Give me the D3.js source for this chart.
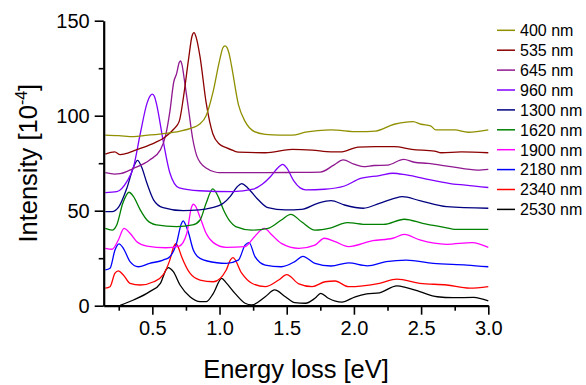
<!DOCTYPE html>
<html>
<head>
<meta charset="utf-8">
<script src="https://cdn.jsdelivr.net/npm/d3@7"></script>
<style>
  html, body { margin: 0; padding: 0; background: #fff; }
  svg { display: block; font-family: Arial, "Liberation Sans", sans-serif; }
</style>
</head>
<body>
<svg id="chart" width="586" height="385"></svg>
<script>
// Wavelength labels, top of the legend first
const labels = ["400 nm", "535 nm", "645 nm", "960 nm", "1300 nm",
                "1620 nm", "1900 nm", "2180 nm", "2340 nm", "2530 nm"];
const colors = ["#8f8f00", "#8b0000", "#901890", "#8000ff", "#000080",
                "#008000", "#ff00ff", "#0000ff", "#ff0000", "#000000"];

// Energy loss [eV] / intensity [1e-4] pairs, curves stacked with offsets
const s400 = [[0.15,89.8],[0.25,89.5],[0.36,89],[0.45,89.6],[0.6,90.7],[0.7,91.8],[0.8,93.7],[0.85,95.5],[0.9,100],[0.95,112],[1.0,129],[1.025,135.8],[1.04,136.8],[1.055,136],[1.07,133],[1.09,126],[1.14,106],[1.19,97],[1.26,91.6],[1.34,90.2],[1.45,89.8],[1.54,89.8],[1.64,91.3],[1.73,92.1],[1.83,92.5],[2.03,91.6],[2.16,91.9],[2.3,95.5],[2.44,96.9],[2.5,95.5],[2.57,94.7],[2.61,92.5],[2.75,92.5],[2.85,91.3],[3.0,92.5]];
const s535 = [[0.15,79.8],[0.22,81],[0.26,79.5],[0.3,80],[0.36,81.5],[0.48,84.6],[0.6,89],[0.66,93],[0.7,97],[0.73,109],[0.77,130],[0.795,141.8],[0.81,143.7],[0.825,141.5],[0.855,131],[0.9,107],[0.95,90.5],[1.0,85],[1.05,83.2],[1.1,81.7],[1.14,80.8],[1.34,80.5],[1.54,82.3],[1.69,81.9],[1.83,81],[1.91,81],[2.03,83.5],[2.16,83.7],[2.3,83.7],[2.43,82.3],[2.6,81.4],[2.65,80.5],[2.8,81],[3.0,80.5]];
const s645 = [[0.15,70],[0.22,69.3],[0.26,69.5],[0.36,72.3],[0.48,76.7],[0.56,82],[0.6,90],[0.63,102],[0.66,118],[0.68,122],[0.70,128],[0.71,128.8],[0.72,127],[0.74,118],[0.77,103],[0.8,88],[0.83,79],[0.86,75],[0.9,72.5],[0.96,70.5],[1.0,70],[1.35,70],[1.5,70.1],[1.75,70.3],[1.85,74],[1.92,76.7],[2.0,74.5],[2.07,73.2],[2.15,73.8],[2.25,74],[2.37,77],[2.45,75.5],[2.55,74.9],[2.72,73.2],[2.92,71.4],[3.0,71.8]];
const s960 = [[0.15,59.5],[0.235,60],[0.31,65.3],[0.36,73],[0.41,90.5],[0.46,106.5],[0.485,110.6],[0.5,111.4],[0.515,110.2],[0.53,106.5],[0.58,87],[0.63,70],[0.7,62],[0.85,60.5],[1.1,60],[1.25,61.3],[1.32,64],[1.38,68],[1.44,73],[1.47,74.4],[1.5,72.5],[1.55,66],[1.6,62],[1.64,61],[1.78,61.3],[1.93,63],[2.05,67],[2.19,68.5],[2.29,69.7],[2.39,68.8],[2.57,66.2],[2.74,64],[2.83,63.5],[3.0,62.2]];
const s1300 = [[0.15,49.5],[0.2,49.5],[0.25,52],[0.31,61.8],[0.36,73],[0.39,76.5],[0.42,73],[0.46,64.4],[0.51,55.6],[0.58,51.6],[0.73,50],[0.85,50.4],[0.93,51.3],[1.03,54],[1.08,57.5],[1.13,62.5],[1.165,64.3],[1.21,62],[1.29,55.6],[1.36,51.6],[1.49,50.4],[1.61,50.7],[1.73,53.9],[1.83,55.3],[1.93,53],[2.07,51.3],[2.19,53.9],[2.3,56.5],[2.36,57.4],[2.49,55.3],[2.69,52.1],[3.0,51.3]];
const s1620 = [[0.15,40.7],[0.2,39.8],[0.235,42.5],[0.28,53.9],[0.326,59.7],[0.36,57.4],[0.41,50.4],[0.46,45.1],[0.53,42.5],[0.68,41.6],[0.8,42.5],[0.855,45.1],[0.9,53.9],[0.95,61.5],[0.99,57.4],[1.03,50.4],[1.08,44.2],[1.12,41.6],[1.24,39.8],[1.36,40.7],[1.46,45.1],[1.53,48.1],[1.61,44.2],[1.71,39.8],[1.83,41],[1.95,43.7],[2.1,42.8],[2.22,42.8],[2.375,45.5],[2.52,43.2],[2.69,41],[2.75,40.2],[3.0,40.2]];
const s1900 = [[0.15,30.2],[0.2,29.7],[0.247,34.6],[0.289,40.7],[0.334,38.1],[0.384,33.7],[0.46,31.4],[0.6,30.5],[0.7,31.4],[0.756,38],[0.79,51.5],[0.805,53.4],[0.82,52.5],[0.855,46.5],[0.9,38.1],[0.954,33.2],[1.05,30.7],[1.19,31.1],[1.26,36.3],[1.333,40.7],[1.39,37.2],[1.46,32.8],[1.59,30.2],[1.71,31.9],[1.78,35.5],[1.86,33.7],[1.96,31.1],[2.14,34.2],[2.29,35.5],[2.375,37.5],[2.49,34.6],[2.69,32.3],[2.88,33.2],[3.0,30.7]];
const s2180 = [[0.15,18.8],[0.185,19.7],[0.222,29.3],[0.252,32.5],[0.284,30.2],[0.334,23.2],[0.395,20.5],[0.48,22.3],[0.58,24],[0.63,25.8],[0.68,32.8],[0.715,43],[0.73,44.6],[0.745,43],[0.767,38.9],[0.805,29.3],[0.855,24.9],[0.98,22.6],[1.05,22.3],[1.14,24],[1.19,31.9],[1.22,33.2],[1.264,25.8],[1.34,21.4],[1.46,20.5],[1.56,23.2],[1.62,26],[1.71,22.3],[1.83,20.9],[1.96,22.5],[2.1,21],[2.24,23.2],[2.39,24],[2.59,22.3],[2.84,21.4],[3.0,20.5]];
const s2340 = [[0.15,9.2],[0.185,10],[0.222,17.1],[0.247,18.3],[0.284,16.2],[0.334,11.8],[0.41,10.9],[0.51,12.6],[0.58,16.2],[0.63,24],[0.662,31.5],[0.676,32.6],[0.69,31.2],[0.718,25.8],[0.78,17.1],[0.855,13.5],[0.954,12.6],[1.05,18.8],[1.08,24],[1.1,25.3],[1.165,17.1],[1.24,11.8],[1.34,10],[1.44,13.5],[1.5,16.4],[1.59,11.5],[1.69,10],[1.785,12.6],[1.86,13],[1.96,10],[2.19,11.8],[2.32,14],[2.49,11.8],[2.69,10.9],[2.86,9.2],[3.0,10]];
const s2530 = [[0.26,0.2],[0.36,3],[0.48,7.4],[0.56,11.8],[0.605,19.2],[0.62,20],[0.635,19.4],[0.656,17.9],[0.706,10.9],[0.78,4.7],[0.855,2.1],[0.9,2.1],[0.954,6.5],[1.016,14.4],[1.05,12],[1.115,6.5],[1.19,1.3],[1.24,0.4],[1.34,4.7],[1.41,8.3],[1.49,4.7],[1.56,1.6],[1.64,1.3],[1.71,3.9],[1.753,6.5],[1.81,3.9],[1.91,1.9],[2.01,4.7],[2.095,6.2],[2.19,6.8],[2.32,10.4],[2.39,9.5],[2.49,7.4],[2.62,4.7],[2.74,4.2],[2.89,4.4],[3.0,2.5]];

const seriesData = [s400, s535, s645, s960, s1300, s1620, s1900, s2180, s2340, s2530];

const xMajor = [0.5, 1.0, 1.5, 2.0, 2.5, 3.0];
const xMinor = [0.25, 0.75, 1.25, 1.75, 2.25, 2.75];
const yMajor = [0, 50, 100, 150];
const yMinor = [25, 75, 125];

const svg = d3.select("#chart");
const x = d3.scaleLinear().domain([0.138, 3.0]).range([103.7, 488.3]);
const y = d3.scaleLinear().domain([0, 150]).range([305.7, 20.7]);

// Curves (last legend entry drawn first)
const line = d3.line().x(d => x(d[0])).y(d => y(d[1])).curve(d3.curveMonotoneX);
const plot = svg.append("g");
for (let i = seriesData.length - 1; i >= 0; i--) {
  plot.append("path")
    .datum(seriesData[i])
    .attr("d", line)
    .attr("fill", "none")
    .attr("stroke", colors[i])
    .attr("stroke-width", 1.3)
    .attr("stroke-linejoin", "round");
}

// Axes
const fmtX = d3.format(".1f");
const xAxis = svg.append("g").attr("transform", `translate(0,${y(0)})`)
  .call(d3.axisBottom(x).tickValues(xMajor).tickFormat(fmtX).tickSize(9).tickSizeOuter(0));
svg.append("g").attr("transform", `translate(0,${y(0)})`)
  .call(d3.axisBottom(x).tickValues(xMinor).tickFormat("").tickSize(5).tickSizeOuter(0))
  .select(".domain").remove();
const yAxis = svg.append("g").attr("transform", `translate(${x(0.138)},0)`)
  .call(d3.axisLeft(y).tickValues(yMajor).tickSize(9).tickSizeOuter(0));
svg.append("g").attr("transform", `translate(${x(0.138)},0)`)
  .call(d3.axisLeft(y).tickValues(yMinor).tickFormat("").tickSize(5).tickSizeOuter(0))
  .select(".domain").remove();

svg.selectAll(".domain").attr("stroke", "#000").attr("stroke-width", 2.2);
svg.selectAll(".tick line").attr("stroke", "#000").attr("stroke-width", 1.6);
xAxis.selectAll(".tick text").attr("font-size", 20).attr("fill", "#000")
  .attr("font-family", "Arial, 'Liberation Sans', sans-serif").attr("y", 15);
yAxis.selectAll(".tick text").attr("font-size", 20).attr("fill", "#000")
  .attr("font-family", "Arial, 'Liberation Sans', sans-serif").attr("x", -14);

// Axis titles
svg.append("text")
  .attr("x", (x(0.138) + x(3.0)) / 2).attr("y", 377.5)
  .attr("text-anchor", "middle").attr("font-size", 25.5).attr("fill", "#000")
  .text("Energy loss [eV]");
const yt = svg.append("text")
  .attr("transform", `translate(37,${(y(0) + y(150)) / 2}) rotate(-90)`)
  .attr("text-anchor", "middle").attr("font-size", 25.5).attr("fill", "#000");
yt.append("tspan").text("Intensity [10");
yt.append("tspan").attr("font-size", 16).attr("dy", -10).text("-4");
yt.append("tspan").attr("dy", 10).text("]");

// Legend
const legend = svg.append("g");
labels.forEach((lab, i) => {
  const cy = 30.3 + i * 19.9;
  legend.append("line")
    .attr("x1", 497).attr("x2", 515).attr("y1", cy).attr("y2", cy)
    .attr("stroke", colors[i]).attr("stroke-width", 1.5);
  legend.append("text")
    .attr("x", 520).attr("y", cy + 5.8)
    .attr("font-size", 16).attr("fill", "#000")
    .text(lab);
});
</script>
</body>
</html>
